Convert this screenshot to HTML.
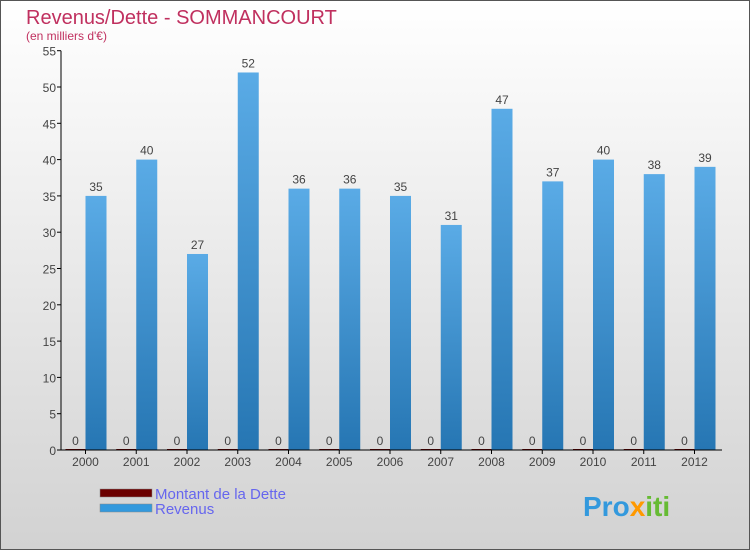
<!DOCTYPE html>
<html><head><meta charset="utf-8"><style>
html,body{margin:0;padding:0}
body{width:750px;height:550px;overflow:hidden;font-family:"Liberation Sans",sans-serif}
</style></head><body>
<svg width="750" height="550" xmlns="http://www.w3.org/2000/svg">
<defs>
<linearGradient id="bg" x1="0" y1="0" x2="0" y2="1"><stop offset="0" stop-color="#ffffff"/><stop offset="1" stop-color="#d2d2d2"/></linearGradient>
<linearGradient id="rev" x1="0" y1="0" x2="0" y2="1"><stop offset="0" stop-color="#5aabe6"/><stop offset="1" stop-color="#2676b3"/></linearGradient>
</defs>
<rect x="0.5" y="0.5" width="749" height="549" fill="url(#bg)" stroke="#555"/>
<text x="26" y="24" font-size="20" fill="#c0305f">Revenus/Dette - SOMMANCOURT</text>
<text x="26" y="40" font-size="12" fill="#c0305f">(en milliers d'€)</text>
<g id="plot"></g>
<g>
<rect x="100" y="489" width="52" height="8" fill="#6b0000" stroke="#888" stroke-width="0.5"/>
<text x="155" y="499" font-size="15" fill="#6666ee">Montant de la Dette</text>
<rect x="100" y="504" width="52" height="8" fill="#3399dd" stroke="#888" stroke-width="0.5"/>
<text x="155" y="514" font-size="15" fill="#6666ee">Revenus</text>
</g>
<text x="583" y="516" font-size="28" font-weight="bold" fill="#3399dd">Pro<tspan fill="#ff9900">x</tspan><tspan fill="#66bb33">iti</tspan></text>
</svg>
<script>
const years=["2000","2001","2002","2003","2004","2005","2006","2007","2008","2009","2010","2011","2012"];
const revenus=[35,40,27,52,36,36,35,31,47,37,40,38,39];
const dette=[0,0,0,0,0,0,0,0,0,0,0,0,0];
const yTicks=[0,5,10,15,20,25,30,35,40,45,50,55];
const NS="http://www.w3.org/2000/svg";
const g=document.getElementById('plot');
const y0=450,yTop=50.7,yMax=55;
const ys=v=>y0-(v/yMax)*(y0-yTop);
const xc=i=>85.5+i*50.75;
function mk(t,a,p){const e=document.createElementNS(NS,t);for(const k in a)e.setAttribute(k,a[k]);(p||g).appendChild(e);return e;}
yTicks.forEach(v=>{
 const l=mk('line',{x1:57,x2:61,y1:ys(v),y2:ys(v),stroke:'#000'});
 
 
 const t=mk('text',{x:56,y:ys(v)+5,'font-size':12,fill:'#444','text-anchor':'end'});
 t.textContent=v;
 
 
});
years.forEach((yr,i)=>{
 const c=xc(i);
 const d=mk('rect',{x:c-20,y:ys(dette[i])-1,width:20,height:Math.max(1,y0-ys(dette[i])),fill:'#6b0000'});
 
 
 const dl=mk('text',{x:c-10,y:ys(dette[i])-5,'font-size':12,fill:'#444','text-anchor':'middle'});
 dl.textContent=dette[i];
 
 
 const r=mk('rect',{x:c,y:ys(revenus[i]),width:21,height:y0-ys(revenus[i]),fill:'url(#rev)'});
 
 
 const rl=mk('text',{x:c+10.5,y:ys(revenus[i])-5,'font-size':12,fill:'#444','text-anchor':'middle'});
 rl.textContent=revenus[i];
 
 
 const xt=mk('line',{x1:c,x2:c,y1:450,y2:454,stroke:'#000'});
 
 
 const xl=mk('text',{x:c,y:466,'font-size':12,fill:'#444','text-anchor':'middle'});
 xl.textContent=yr;
 
 
});
const ya=mk('line',{x1:61,x2:61,y1:yTop,y2:450.5,stroke:'#000'});


const xa=mk('line',{x1:61,x2:722,y1:450,y2:450,stroke:'#000'});


</script>
</body></html>
